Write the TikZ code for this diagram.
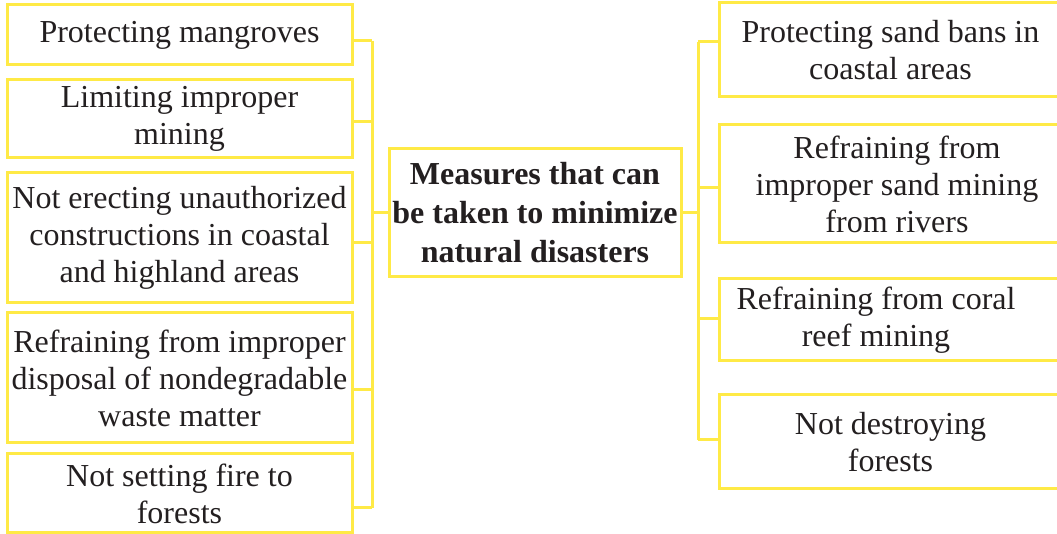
\documentclass[tikz,border=0pt]{standalone}
\usepackage{fontspec}
\setmainfont{Liberation Serif}
\definecolor{boxyellow}{RGB}{255,234,70}
\definecolor{inkgray}{RGB}{35,31,32}
\begin{document}
\begin{tikzpicture}[x=0.5pt,y=-0.5pt,
	measure/.style={draw=boxyellow,line width=1.5pt,inner sep=0pt,align=center,text=inkgray,
		font=\fontsize{16}{18.5}\selectfont},
	link/.style={boxyellow,line width=1.5pt}]
	\clip (0,0) rectangle (1057,534);

	% left column
	\node[measure,minimum width=172.5pt,minimum height=30pt] (mangroves) at (179.5,35) {Protecting mangroves};
	\node[measure,minimum width=172.5pt,minimum height=39pt] (mining) at (179.5,119) {Limiting improper\\mining};
	\node[measure,minimum width=172.5pt,minimum height=65pt] (construct) at (179.5,238) {Not erecting unauthorized\\constructions in coastal\\and highland areas};
	\node[measure,minimum width=172.5pt,minimum height=65pt] (waste) at (179.5,378) {Refraining from improper\\disposal of nondegradable\\waste matter};
	\node[measure,minimum width=172.5pt,minimum height=39.5pt] (fire) at (179.5,493.5) {Not setting fire to\\forests};

	% centre
	\node[measure,minimum width=146pt,minimum height=64pt,
		font=\fontsize{16}{19.5}\selectfont\bfseries] (centre) at (535,213) {Measures that can\\be taken to minimize\\natural disasters};

	% right column
	\node[measure,minimum width=171.5pt,minimum height=47pt] (sandbans) at (890.5,50) {Protecting sand bans in\\coastal areas};
	\node[measure,minimum width=171.5pt,minimum height=59pt] (rivers) at (890.5,184) {\hspace*{6.5pt}Refraining from\\\hspace*{6.5pt}improper sand mining\\\hspace*{6.5pt}from rivers};
	\node[measure,minimum width=171.5pt,minimum height=41pt] (coral) at (890.5,320) {Refraining from coral\hspace*{14.5pt}\\reef mining\hspace*{14.5pt}};
	\node[measure,minimum width=171.5pt,minimum height=47pt] (forests) at (890.5,442) {Not destroying\\forests};

	% left bus
	\coordinate (l1) at (372,41);
	\coordinate (l2) at (372,122);
	\coordinate (l3) at (372,243);
	\coordinate (l4) at (372,390);
	\coordinate (l5) at (372,508);
	\draw[link] (l1) -- (l5);
	\draw[link] (l1) -- (l1 -| mangroves.east);
	\draw[link] (l2) -- (l2 -| mining.east);
	\draw[link] (l3) -- (l3 -| construct.east);
	\draw[link] (l4) -- (l4 -| waste.east);
	\draw[link] (l5) -- (l5 -| fire.east);
	\draw[link] (centre.west) -- (centre.west -| l1);

	% right bus
	\coordinate (r1) at (698,42);
	\coordinate (r2) at (698,188);
	\coordinate (r3) at (698,319);
	\coordinate (r4) at (698,440);
	\draw[link] (r1) -- (r4);
	\draw[link] (r1) -- (r1 -| sandbans.west);
	\draw[link] (r2) -- (r2 -| rivers.west);
	\draw[link] (r3) -- (r3 -| coral.west);
	\draw[link] (r4) -- (r4 -| forests.west);
	\draw[link] (centre.east) -- (centre.east -| r1);
\end{tikzpicture}
\end{document}
